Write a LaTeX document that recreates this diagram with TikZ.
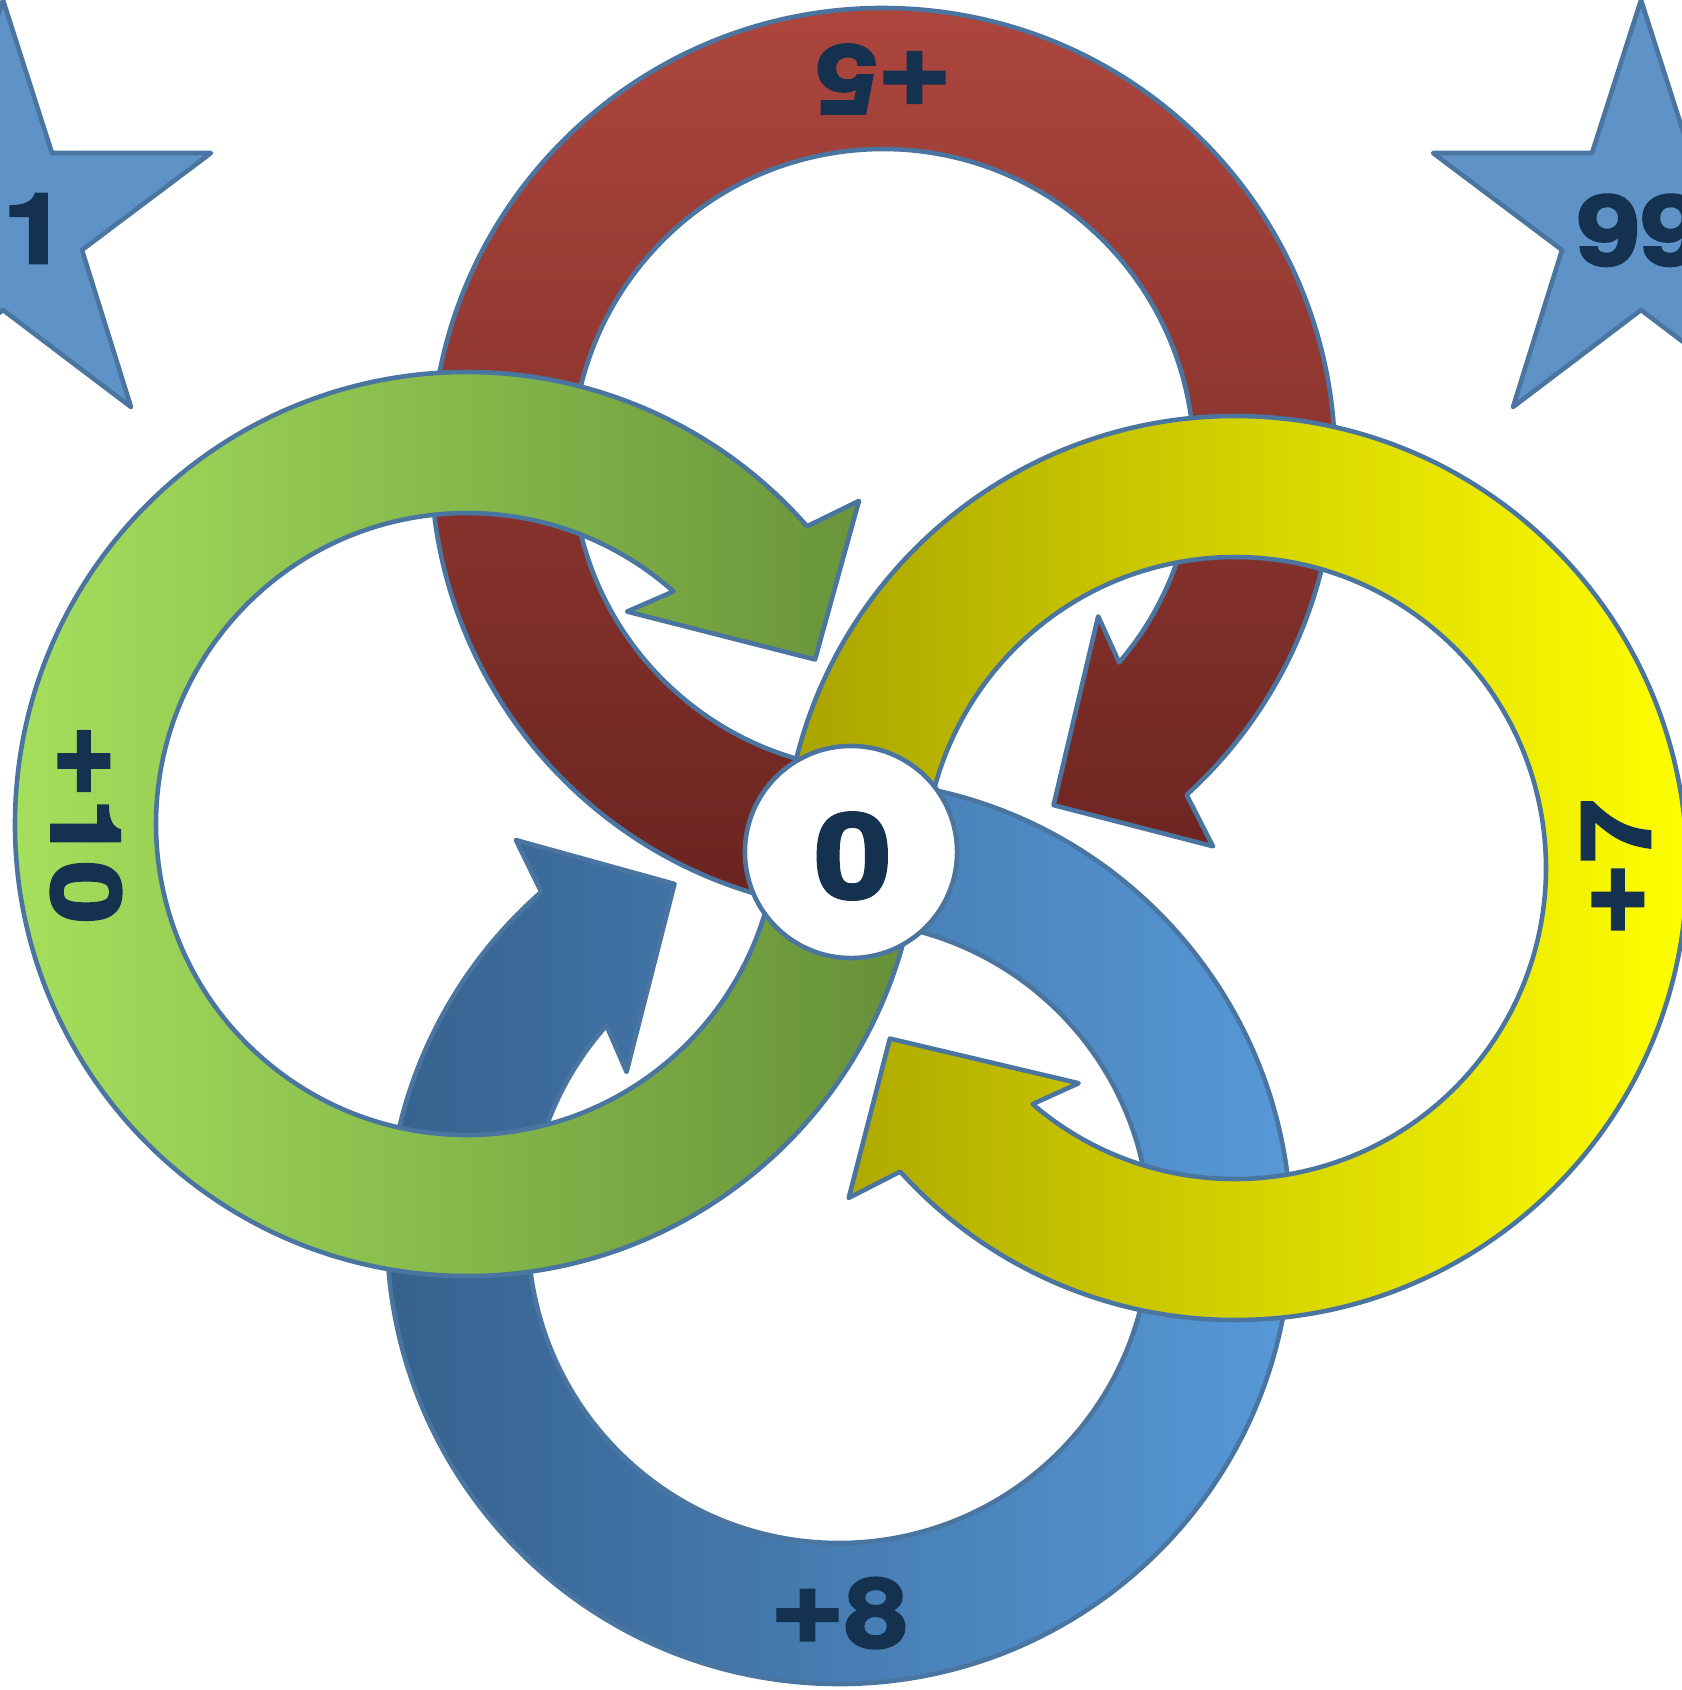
\documentclass[tikz,border=0pt]{standalone}
\usepackage{fontspec}
\usepackage{graphicx}
\setmainfont{DejaVu Sans}
\newfontfamily\heavy[FakeBold=3,FakeStretch=1.18]{texgyreheros-bold.otf}
\newcommand\plussign{\raisebox{0.055em}{\scalebox{1.12}{+}}}
\usetikzlibrary{calc}
\definecolor{edge}{HTML}{4A75A0}
\definecolor{ink}{HTML}{14314F}
\definecolor{redtop}{HTML}{AE473E}
\definecolor{redbot}{HTML}{69231F}
\definecolor{yelL}{HTML}{A9A300}
\definecolor{yelR}{HTML}{FFFF00}
\definecolor{bluL}{HTML}{36618D}
\definecolor{bluR}{HTML}{5799D8}
\definecolor{grnL}{HTML}{A6E15D}
\definecolor{grnR}{HTML}{658F38}
\definecolor{starblue}{HTML}{5F93C8}
% #1 centre, #2 tail angle, #3 rotation, #4 style, #5 extra head turn
\newcommand\ringarrow[5]{%
  \path[ring,#4] ($(#1)+(#2:452)$) arc[start angle=#2, end angle=-47.8-#3-#5, radius=452]
    -- ($(#1)+({-49.5-#3-#5}:508)$) -- ($(#1)+({-63.7-#3-#5}:385)$)
    -- ($(#1)+({-36-#3-#5}:266)$) -- ($(#1)+({-40.6-#3-#5}:311)$)
    arc[start angle=-40.6-#3-#5, end angle=#2, radius=311] -- cycle;}
\newcommand\starat[1]{%
  \path[starshape] (#1,0) -- (#1+49,-153) -- (#1+208,-153) -- (#1+79,-250)
    -- (#1+128,-407) -- (#1,-310) -- (#1-128,-407) -- (#1-79,-250)
    -- (#1-208,-153) -- (#1-49,-153) -- cycle;}
\begin{document}
\begin{tikzpicture}[x=0.01cm,y=0.01cm,
  ring/.style={draw=edge, line width=1.3pt, line join=round},
  lbl/.style={text=ink, font=\heavy\fontsize{27.3}{30}\selectfont, inner sep=0pt},
  starlbl/.style={text=ink, font=\heavy\fontsize{27.6}{30}\selectfont, inner sep=0pt},
  starshape/.style={draw=edge, fill=starblue, line width=1.3pt, line join=round}]
\useasboundingbox (0,0) rectangle (1682,-1690);
\clip (0,0) rectangle (1682,-1690);
\coordinate (rc) at (883,-460);
\coordinate (yc) at (1235,-868);
\coordinate (bc) at (839,-1232);
\coordinate (gc) at (467,-824);
\coordinate (cc) at (851,-852);
% stars
\starat{3}
\starat{1641}
\node[starlbl, anchor=base] (s1) at (35,-263) {1};
\node[starlbl, anchor=base west] (s99) at (1576,-265) {99};
% rings: lower ones first
\ringarrow{rc}{265}{0}{top color=redtop, bottom color=redbot}{0}
\ringarrow{bc}{88}{180}{left color=bluL, right color=bluR}{1}
\ringarrow{gc}{-4}{270}{left color=grnL, right color=grnR}{1}
\ringarrow{yc}{178}{90}{left color=yelL, right color=yelR}{0}
% centre
\node[circle, draw=edge, fill=white, line width=1.3pt, minimum size=2.12cm, inner sep=0pt] (c0) at (cc) {};
\node[text=ink, font=\heavy\fontsize{33.5}{36}\selectfont, inner sep=0pt] (t0) at (853,-856) {0};
% labels
\node[lbl, rotate=180] (l5) at ($(rc)+(90:381)$) {\plussign5};
\node[lbl, rotate=90] (l7) at ($(yc)+(0:381)$) {\plussign7};
\node[lbl] (l8) at ($(bc)+(-90:381)$) {\plussign8};
\node[lbl, rotate=-90] (l10) at ($(gc)+(180:381)$) {\plussign10};
\end{tikzpicture}
\end{document}
